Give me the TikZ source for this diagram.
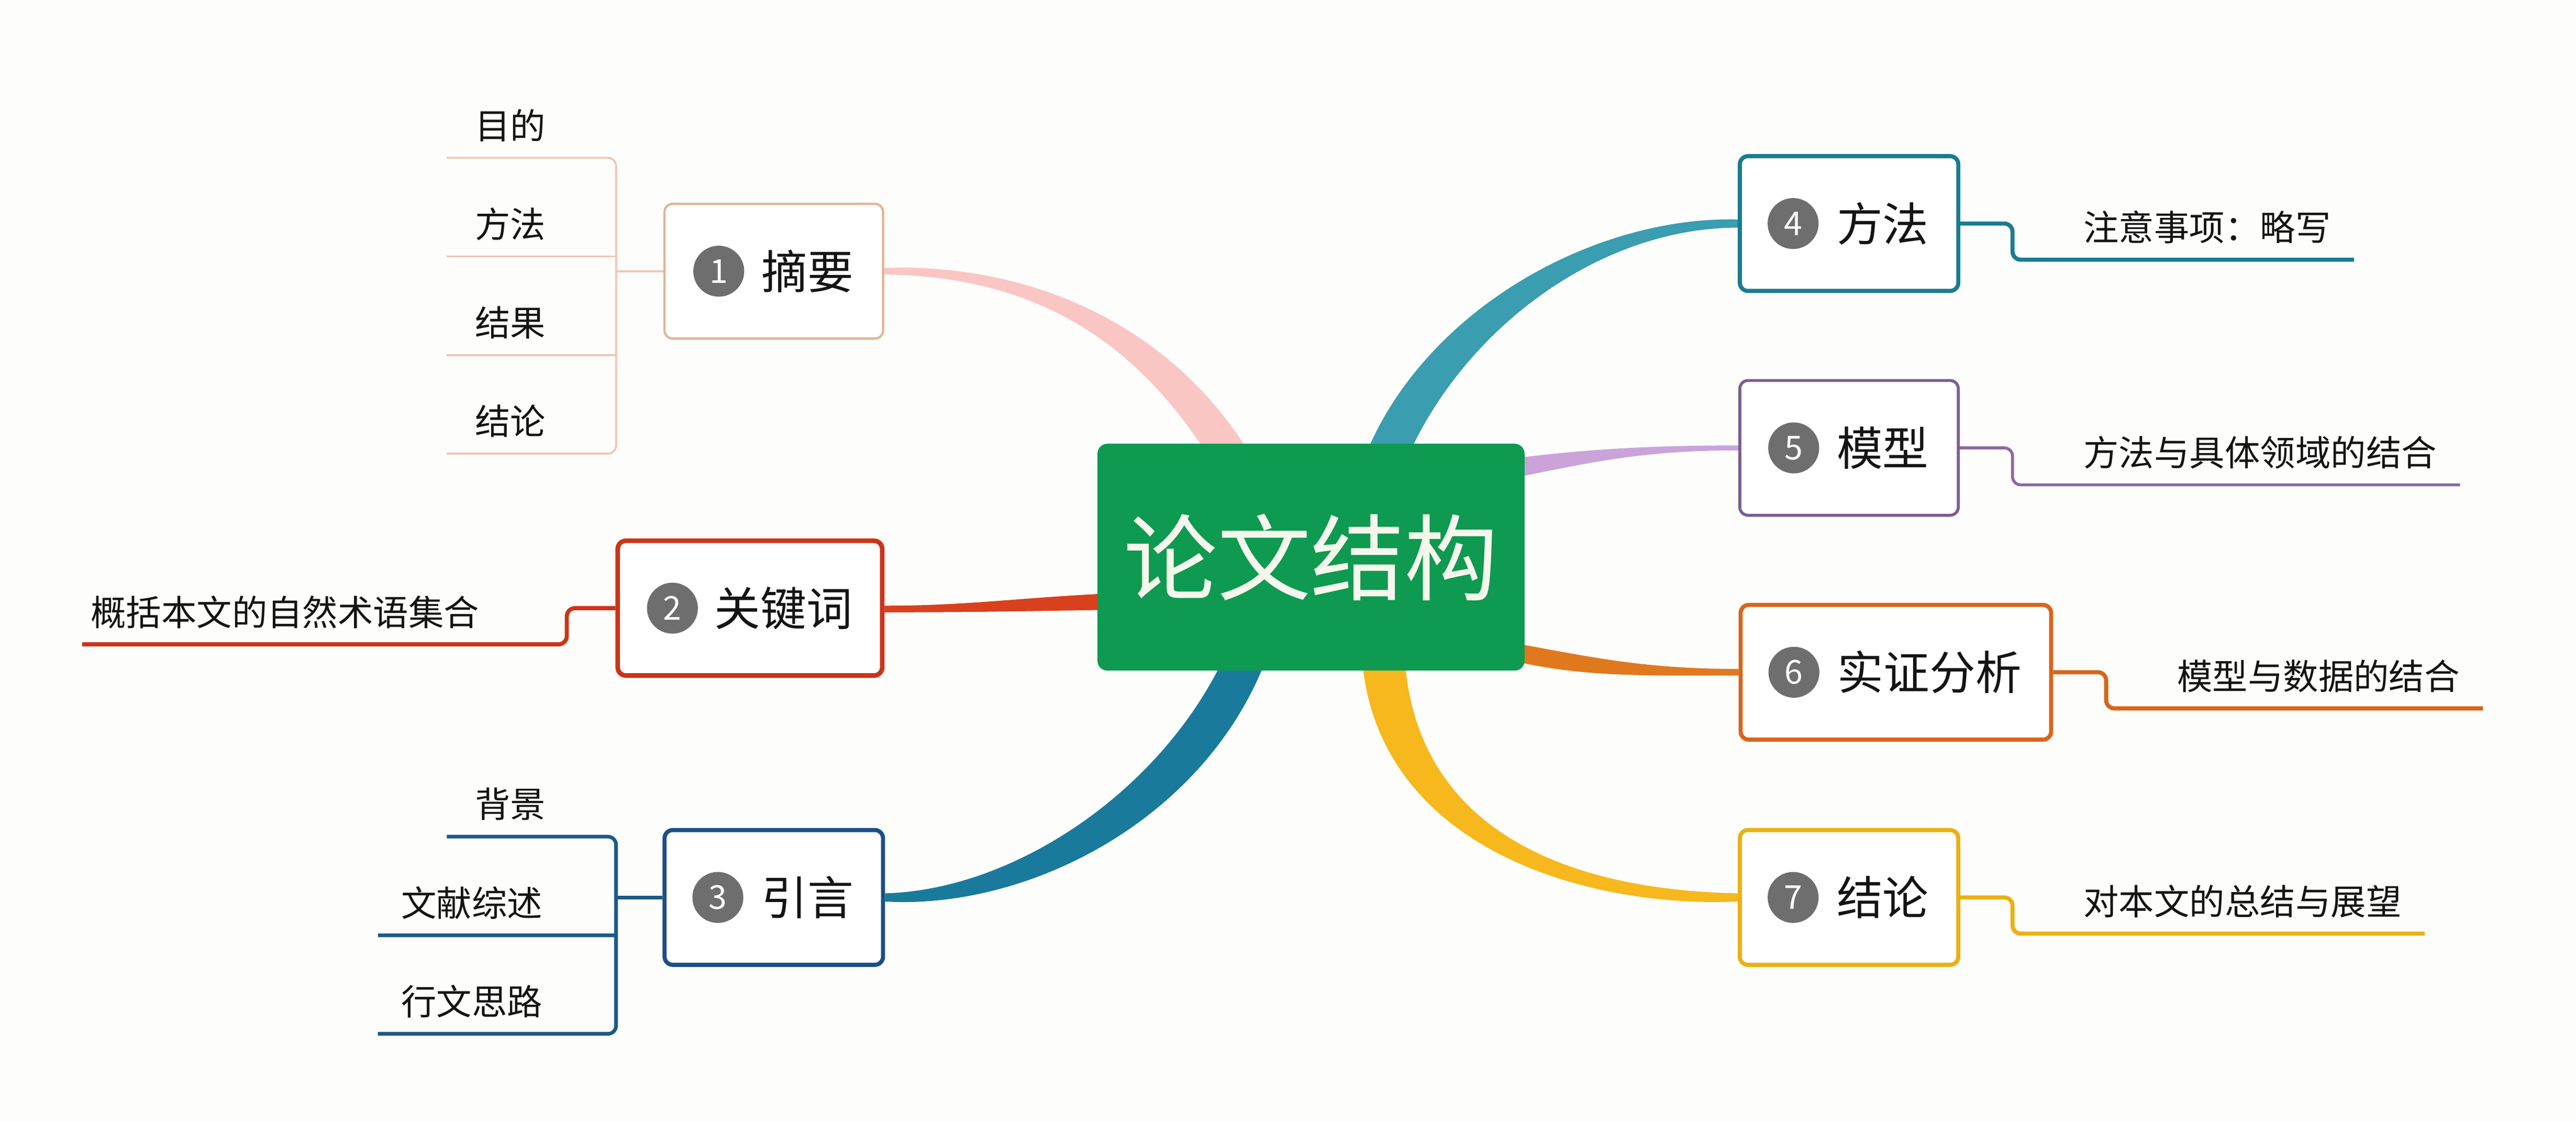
\documentclass[tikz,border=0pt]{standalone}
\usepackage{fontspec}
\setmainfont{Noto Sans CJK SC}
\usetikzlibrary{positioning,backgrounds}

\definecolor{bgcol}{HTML}{FDFDFB}
\definecolor{txt}{HTML}{141414}
\definecolor{numgray}{HTML}{6E6E6E}
\definecolor{rootgreen}{HTML}{0E9A50}
\definecolor{pinkbr}{HTML}{F9C6C4}
\definecolor{peachbox}{HTML}{E2B49A}
\definecolor{peachln}{HTML}{EFC6B2}
\definecolor{redbr}{HTML}{D9401E}
\definecolor{redbox}{HTML}{CC3418}
\definecolor{bluebr}{HTML}{1A7A9B}
\definecolor{bluebox}{HTML}{1B4F86}
\definecolor{blueln}{HTML}{1C5A88}
\definecolor{tealbr}{HTML}{3B9DB0}
\definecolor{tealbox}{HTML}{197C92}
\definecolor{purplebr}{HTML}{C9A3DA}
\definecolor{purplebox}{HTML}{7C5E92}
\definecolor{purpleln}{HTML}{8C6AA0}
\definecolor{orangebr}{HTML}{E0791E}
\definecolor{orangebox}{HTML}{D8651A}
\definecolor{yellowbr}{HTML}{F6B81C}
\definecolor{yellowbox}{HTML}{EBB012}

\begin{document}
\begin{tikzpicture}[x=1pt,y=1pt,
    box/.style={draw, rounded corners=5pt, fill=white, minimum height=82pt, inner xsep=18pt,
      text=txt, font=\fontsize{28}{30}\selectfont},
    num/.style={circle, fill=numgray, text=white, inner sep=0pt, minimum size=31pt,
      font=\fontsize{20}{22}\selectfont},
    leaf/.style={anchor=south west, inner xsep=#1, minimum height=39pt, text=txt,
      font=\fontsize{21.5}{24}\selectfont},
    leaf/.default=14pt,
    stem/.style={rounded corners=5pt}]

\node[fill=rootgreen, rounded corners=6pt, minimum width=260pt, minimum height=138pt,
  text={rgb,255:red,246;green,247;blue,236}, font=\fontsize{57}{60}\selectfont] (root) at (798,-339) {论文结构};

\node[box, draw=peachbox, line width=1.4pt] (b1) at (471,-165) {\hspace*{41pt}摘要};
\node[box, draw=redbox, line width=2.8pt] (b2) at (456.5,-370) {\hspace*{41pt}关键词};
\node[box, draw=bluebox, line width=2.5pt] (b3) at (471,-546) {\hspace*{41pt}引言};
\node[box, draw=tealbox, line width=2.5pt] (b4) at (1125.5,-136) {\hspace*{41pt}方法};
\node[box, draw=purplebox, line width=1.8pt] (b5) at (1125.5,-272.5) {\hspace*{41pt}模型};
\node[box, draw=orangebox, line width=2.5pt] (b6) at (1154,-409) {\hspace*{41pt}实证分析};
\node[box, draw=yellowbox, line width=2.5pt] (b7) at (1125.5,-546) {\hspace*{41pt}结论};

\node[num, right=18pt of b1.west] (n1) {1};
\node[num, right=19pt of b2.west] (n2) {2};
\node[num, right=18pt of b3.west] (n3) {3};
\node[num, right=18pt of b4.west] (n4) {4};
\node[num, right=18pt of b5.west] (n5) {5};
\node[num, right=18pt of b6.west] (n6) {6};
\node[num, right=18pt of b7.west] (n7) {7};

\node[leaf=17pt] (l11) at (272,-96) {目的};
\node[leaf=17pt] (l12) at (272,-156) {方法};
\node[leaf=17pt] (l13) at (272,-216) {结果};
\node[leaf=17pt] (l14) at (272,-276) {结论};
\coordinate (sp1) at (375,-165);

\node[leaf=5pt] (l21) at (50,-392) {概括本文的自然术语集合};
\coordinate (st2) at (345,-370);

\node[leaf=17pt] (l31) at (272,-509) {背景};
\node[leaf] (l32) at (230,-569) {文献综述};
\node[leaf] (l33) at (230,-629) {行文思路};
\coordinate (sp3) at (375,-546);

\node[leaf] (l41) at (1225,-158) {\hspace*{29pt}注意事项：略写};
\node[leaf] (l51) at (1225,-295) {\hspace*{29pt}方法与具体领域的结合};
\node[leaf] (l61) at (1282,-431) {\hspace*{29pt}模型与数据的结合};
\node[leaf] (l71) at (1225,-568) {\hspace*{29pt}对本文的总结与展望};

\draw[peachln, line width=1.2pt, stem] (l11.south west) -- (l11.south west -| sp1) -- (l14.south west -| sp1) -- (l14.south west);
\draw[peachln, line width=1.2pt] (l12.south west) -- (l12.south west -| sp1);
\draw[peachln, line width=1.2pt] (l13.south west) -- (l13.south west -| sp1);
\draw[peachln, line width=1.2pt] (sp1) -- (b1.west);

\draw[redbox, line width=2.5pt, stem] (l21.south west) -| (st2) -- (b2.west);

\draw[blueln, line width=2.2pt, stem] (l31.south west) -- (l31.south west -| sp3) -- (l33.south west -| sp3) -- (l33.south west);
\draw[blueln, line width=2.2pt] (l32.south west) -- (l32.south west -| sp3);
\draw[blueln, line width=2.2pt] (sp3) -- (b3.west);

\draw[tealbox, line width=2.5pt, stem] (b4.east) -| (l41.south west) -- (l41.south east);
\draw[purpleln, line width=1.8pt, stem] (b5.east) -| (l51.south west) -- (l51.south east);
\draw[orangebox, line width=2.5pt, stem] (b6.east) -| (l61.south west) -- (l61.south east);
\draw[yellowbox, line width=2.5pt, stem] (b7.east) -| (l71.south west) -- (l71.south east);

\begin{scope}[on background layer]
\fill[bgcol] (0,0) rectangle (1568,-682);
\fill[pinkbr] ([shift={(-61,-10)}]root.north) .. controls +(-50,80) and +(83,-1) .. ([yshift=-2]b1.east)
  -- ([yshift=2]b1.east) .. controls +(85,3) and +(-50,85) .. ([shift={(-35,-10)}]root.north) -- cycle;
\fill[redbr] ([shift={(8,-22)}]root.west) .. controls +(-60,-3) and +(50,0) .. ([yshift=1.5]b2.east)
  -- ([yshift=-2.5]b2.east) .. controls +(50,0) and +(-60,-1) .. ([shift={(8,-32)}]root.west) -- cycle;
\fill[bluebr] ([shift={(-53,8)}]root.south) .. controls +(-39,-82) and +(78,2) .. ([yshift=2.5]b3.east)
  -- ([yshift=-2.5]b3.east) .. controls +(88,-5) and +(-37,-98) .. ([shift={(-27,8)}]root.south) -- cycle;
\fill[tealbr] ([shift={(58,-10)}]root.north) .. controls +(35,80) and +(-84,0) .. ([yshift=-2.5]b4.west)
  -- ([yshift=2.5]b4.west) .. controls +(-89,2) and +(35,90) .. ([shift={(32,-10)}]root.north) -- cycle;
\fill[purplebr] ([shift={(-8,60)}]root.east) .. controls +(40,5) and +(-60,0) .. ([yshift=1.5]b5.west)
  -- ([yshift=-1.5]b5.west) .. controls +(-60,0) and +(45,9) .. ([shift={(-8,48)}]root.east) -- cycle;
\fill[orangebr] ([shift={(-8,-52)}]root.east) .. controls +(45,-8) and +(-60,0) .. ([yshift=2]b6.west)
  -- ([yshift=-2]b6.west) .. controls +(-60,0) and +(45,-10) .. ([shift={(-8,-63)}]root.east) -- cycle;
\fill[yellowbr] ([shift={(57,8)}]root.south) .. controls +(7,-105) and +(-104,2) .. ([yshift=2.5]b7.west)
  -- ([yshift=-2.5]b7.west) .. controls +(-94,-4) and +(9,-115) .. ([shift={(31,8)}]root.south) -- cycle;
\end{scope}
\end{tikzpicture}
\end{document}
